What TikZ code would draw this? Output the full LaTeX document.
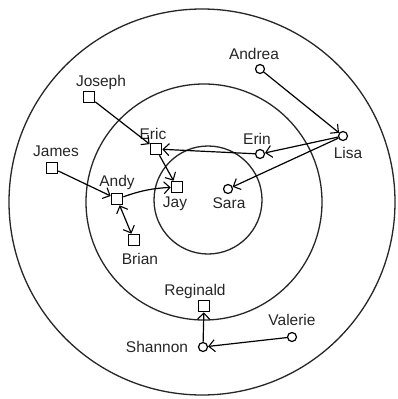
\documentclass[tikz,border=0pt]{standalone}
\usepackage{fontspec}
\setmainfont{Liberation Sans}
\usetikzlibrary{arrows.meta}
\begin{document}
\begin{tikzpicture}[x=1pt,y=-1pt,
  ring/.style={draw=black!85,line width=1.3pt},
  sq/.style={draw,rectangle,line width=1.2pt,minimum size=11.5pt,inner sep=0pt},
  ci/.style={draw,circle,line width=1.2pt,minimum size=9pt,inner sep=0pt},
  lab/.style={inner sep=0pt,font=\fontsize{15.5}{17}\selectfont,text=black!85},
  link/.style={line width=1.2pt,-{Straight Barb[length=6pt,width=12pt,line width=1.1pt]}},
  blink/.style={line width=1.2pt,{Straight Barb[length=6pt,width=12pt,line width=1.1pt]}-{Straight Barb[length=6pt,width=12pt,line width=1.1pt]}}]
\useasboundingbox (0,0) rectangle (397,399);
\fill[white] (0,0) rectangle (397,399);
\draw[ring] (202,202) circle[radius=193];
\draw[ring] (204,202) circle[radius=118];
\draw[ring] (208,200) circle[radius=54];
% nodes
\node[ci] (andrea) at (260,69) {};
\node[ci] (lisa) at (343,136) {};
\node[ci] (erin) at (260,154) {};
\node[ci] (sara) at (228,189) {};
\node[sq] (joseph) at (89,97) {};
\node[sq] (eric) at (156,149) {};
\node[sq] (jay) at (177,187) {};
\node[sq] (james) at (52,168) {};
\node[sq] (andy) at (117,199) {};
\node[sq] (brian) at (134,240) {};
\node[sq] (reginald) at (204,306) {};
\node[ci] (shannon) at (203,347) {};
\node[ci] (valerie) at (292,337) {};
% labels
\node[lab] (l1) at (254,54) {Andrea};
\node[lab] (l2) at (348,153) {Lisa};
\node[lab] (l3) at (257,139) {Erin};
\node[lab] (l4) at (229,203) {Sara};
\node[lab] (l5) at (101,82) {Joseph};
\node[lab] (l6) at (153,134) {Eric};
\node[lab] (l7) at (175,204) {Jay};
\node[lab] (l8) at (56,151) {James};
\node[lab] (l9) at (117,182) {Andy};
\node[lab] (l10) at (140,259) {Brian};
\node[lab] (l11) at (195,291) {Reginald};
\node[lab] (l12) at (157,347) {Shannon};
\node[lab] (l13) at (292,320) {Valerie};
% links
\draw[link] (andrea) -- (lisa);
\draw[link] (lisa) -- (erin);
\draw[link] (lisa) -- (sara);
\draw[link] (erin) -- (eric);
\draw[link] (joseph) -- (eric);
\draw[link] (eric) -- (jay);
\draw[link] (andy) to[bend left=8] (jay);
\draw[link] (james) -- (andy);
\draw[blink] (andy) -- (brian);
\draw[link] (shannon) -- (reginald);
\draw[link] (valerie) -- (shannon);
\end{tikzpicture}
\end{document}
